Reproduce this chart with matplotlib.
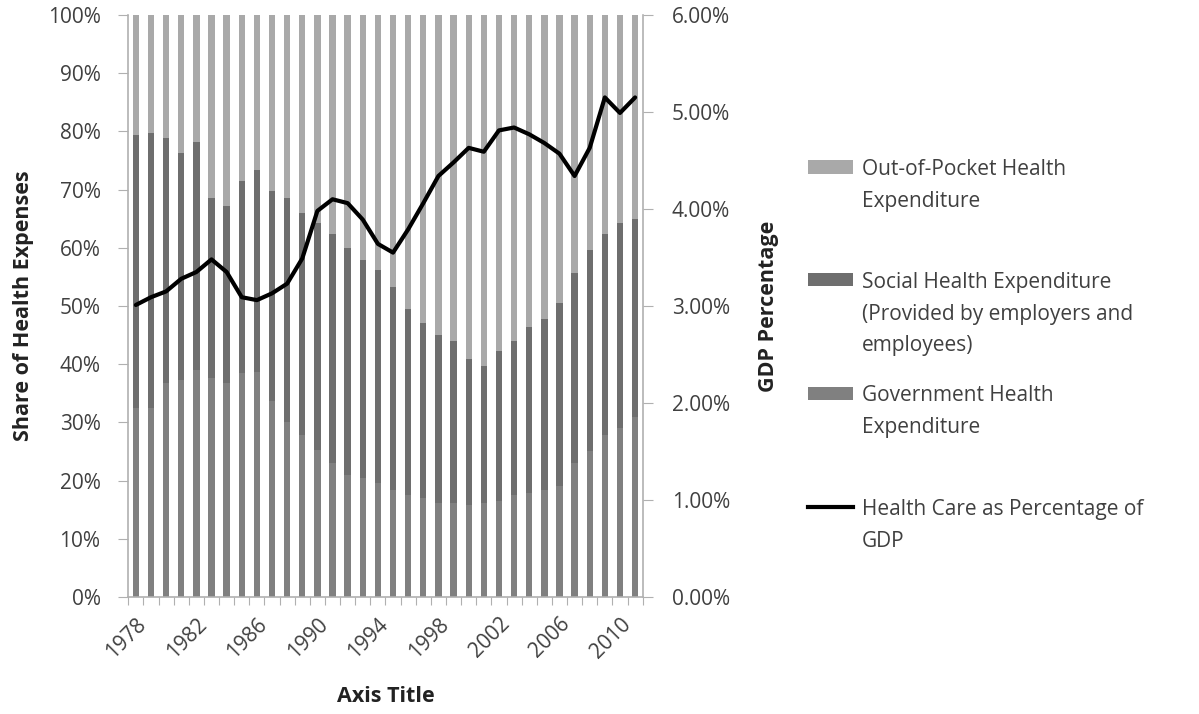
import matplotlib
matplotlib.use('Agg')
import matplotlib.pyplot as plt
import numpy as np
from matplotlib.patches import Rectangle
from matplotlib.lines import Line2D
from matplotlib.ticker import FuncFormatter

# DATA:
years = list(range(1978, 2012))
government = [32.4, 32.4, 36.7, 37.3, 39.0, 37.6, 36.7, 38.5, 38.7, 33.6,
              30.1, 27.8, 25.3, 23.0, 21.0, 20.4, 19.5, 18.4, 17.5, 17.0,
              16.1, 16.1, 15.8, 16.1, 16.4, 17.5, 17.8, 18.4, 19.0, 23.0,
              25.0, 27.8, 29.0, 31.0]
social = [46.9, 47.3, 42.1, 39.0, 39.2, 31.0, 30.5, 32.9, 34.7, 36.1,
          38.5, 38.1, 38.9, 39.4, 38.9, 37.5, 36.7, 34.9, 31.9, 30.1,
          28.9, 27.9, 25.1, 23.6, 25.8, 26.5, 28.5, 29.3, 31.5, 32.7,
          34.6, 34.5, 35.3, 34.0]
gdp_share = [3.01, 3.09, 3.15, 3.28, 3.35, 3.48, 3.35, 3.09, 3.06, 3.13,
             3.23, 3.49, 3.98, 4.10, 4.06, 3.89, 3.64, 3.55, 3.79, 4.06,
             4.34, 4.48, 4.63, 4.59, 4.81, 4.84, 4.77, 4.68, 4.57, 4.34,
             4.63, 5.15, 4.99, 5.15]

government = np.array(government)
social = np.array(social)
out_of_pocket = 100 - government - social

# STYLE:
plt.rcParams['font.family'] = ['Open Sans', 'DejaVu Sans']
c_gov = '#808080'
c_soc = '#6e6e6e'
c_oop = '#a9a9a9'
c_axis = '#b0b0b0'
c_text = '#404040'
tick_fs = 15
bold_fs = 15.5

fig = plt.figure(figsize=(11.99, 7.14), dpi=100)
ax = fig.add_axes([0.107, 0.164, 0.429, 0.815])

x = np.arange(len(years))
w = 0.42
ax.bar(x, government, w, color=c_gov, zorder=2)
ax.bar(x, social, w, bottom=government, color=c_soc, zorder=2)
ax.bar(x, out_of_pocket, w, bottom=government + social, color=c_oop, zorder=2)

ax.set_xlim(-0.5, len(years) - 0.5)
ax.set_ylim(0, 100)
ax.set_yticks(np.arange(0, 101, 10))
ax.yaxis.set_major_formatter(FuncFormatter(lambda v, p: '%d%%' % v))

# category boundaries as tick marks, labels every 4 years
ax.set_xticks(np.arange(-0.5, len(years), 1))
ax.set_xticklabels([])
ax.set_xticks(x[::4], minor=True)
ax.set_xticklabels([str(y) for y in years[::4]], minor=True, rotation=45,
                   ha='right', va='top', rotation_mode='anchor')
ax.tick_params(axis='x', which='major', length=6, color=c_axis)
ax.tick_params(axis='x', which='minor', length=0, pad=12, labelsize=tick_fs, labelcolor=c_text)
ax.tick_params(axis='y', length=7, color=c_axis, labelsize=tick_fs, labelcolor=c_text, pad=13)

for s in ['top', 'right']:
    ax.spines[s].set_visible(False)
for s in ['left', 'bottom']:
    ax.spines[s].set_color(c_axis)
    ax.spines[s].set_linewidth(1.2)

ax.set_ylabel('Share of Health Expenses', fontsize=bold_fs, fontweight='bold', color='#222222', labelpad=10)
ax.set_xlabel('Axis Title', fontsize=bold_fs, fontweight='bold', color='#222222', labelpad=17)

# SECONDARY AXIS WITH GDP LINE:
ax2 = ax.twinx()
ax2.plot(x, gdp_share, color='black', linewidth=3.0, solid_joinstyle='round', solid_capstyle='round')
ax2.set_ylim(0, 6)
ax2.set_yticks(np.arange(0, 6.1, 1))
ax2.yaxis.set_major_formatter(FuncFormatter(lambda v, p: '%.2f%%' % v))
ax2.tick_params(axis='y', length=7, color=c_axis, labelsize=tick_fs, labelcolor=c_text, pad=14)
for s in ['top', 'left', 'bottom']:
    ax2.spines[s].set_visible(False)
ax2.spines['right'].set_color(c_axis)
ax2.spines['right'].set_linewidth(1.2)
ax2.set_ylabel('GDP Percentage', fontsize=bold_fs, fontweight='bold', color='#222222', labelpad=20)

# LEGEND (drawn by hand, Excel style):
leg_items = [
    ('patch', c_oop, 'Out-of-Pocket Health\nExpenditure'),
    ('patch', c_soc, 'Social Health Expenditure\n(Provided by employers and\nemployees)'),
    ('patch', c_gov, 'Government Health\nExpenditure'),
    ('line', 'black', 'Health Care as Percentage of\nGDP'),
]
leg_y = [1 - 167 / 714, 1 - 280 / 714, 1 - 393 / 714, 1 - 507 / 714]
px0 = 808 / 1199
pw = 45 / 1199
ph = 13 / 714
tx = 862 / 1199
for (kind, col, lab), yy in zip(leg_items, leg_y):
    if kind == 'patch':
        fig.add_artist(Rectangle((px0, yy - ph / 2), pw, ph, transform=fig.transFigure,
                                 facecolor=col, edgecolor='none'))
    else:
        fig.add_artist(Line2D([px0, px0 + pw], [yy, yy], transform=fig.transFigure,
                              color=col, linewidth=3.0))
    fig.text(tx, yy + 0.011, lab, fontsize=15, color=c_text, va='top', ha='left',
             linespacing=1.65)

fig.savefig('out.png', dpi=100)
